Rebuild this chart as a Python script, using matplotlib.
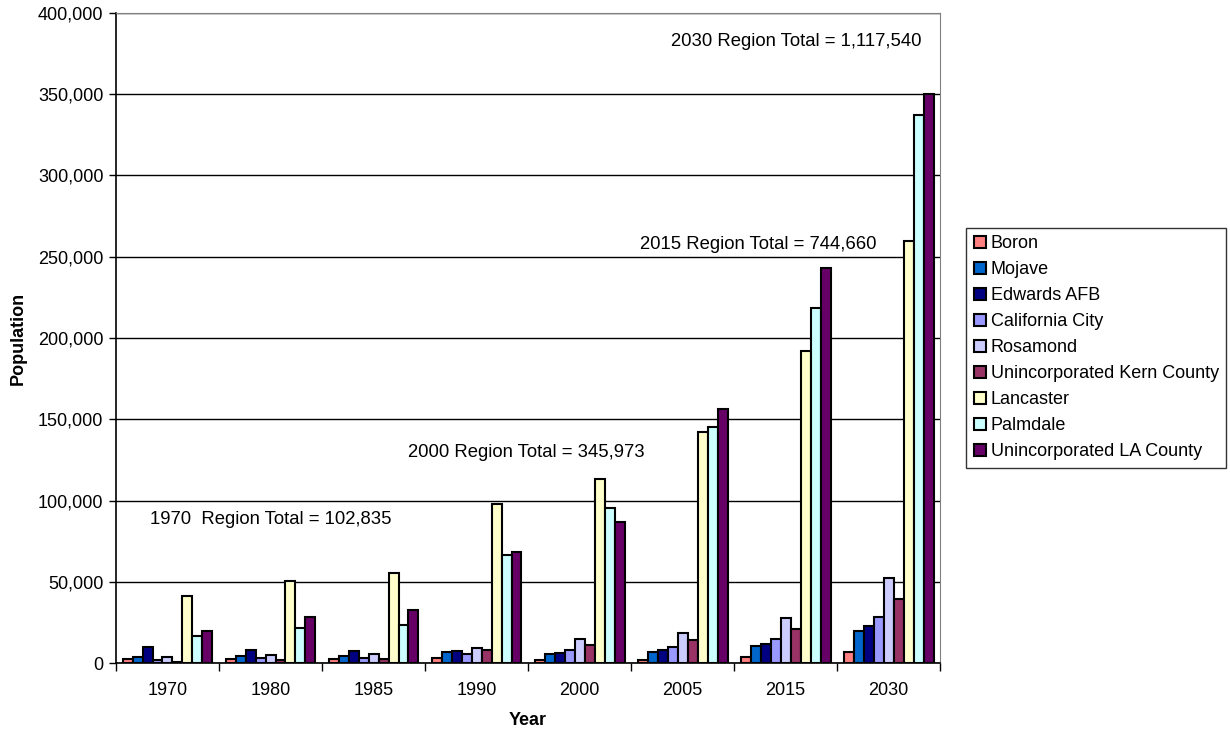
import matplotlib.pyplot as plt
import numpy as np
from matplotlib.ticker import FuncFormatter, FixedLocator

plt.rcParams['font.family'] = ['Liberation Sans', 'DejaVu Sans']

years = ['1970', '1980', '1985', '1990', '2000', '2005', '2015', '2030']
places = ['Boron', 'Mojave', 'Edwards AFB', 'California City', 'Rosamond',
          'Unincorporated Kern County', 'Lancaster', 'Palmdale',
          'Unincorporated LA County']
colors = ['#FF8080', '#0066CC', '#000080', '#9999FF', '#CCCCFF',
          '#993366', '#FFFFCC', '#CCFFFF', '#660066']

boron = [2500, 2700, 2700, 2900, 1800, 2000, 3500, 6800]
mojave = [3800, 4300, 4500, 6800, 5500, 6900, 10500, 19900]
edwards = [10000, 8200, 7600, 7200, 6400, 8000, 11900, 22800]
cal_city = [2000, 2900, 3300, 5500, 8000, 9800, 15000, 28200]
rosamond = [3700, 4900, 5500, 9000, 15000, 18600, 27900, 52300]
kern = [500, 1800, 2500, 8200, 11300, 14000, 20900, 39700]
lancaster = [41200, 50500, 55200, 97800, 113000, 141900, 192000, 260000]
palmdale = [16800, 21300, 23600, 66400, 95500, 145300, 218500, 337500]
la_county = [19900, 28500, 32800, 68600, 87000, 156300, 242800, 350000]
series = [boron, mojave, edwards, cal_city, rosamond, kern,
          lancaster, palmdale, la_county]

# label text, x start (group units), y centre
totals = [('1970  Region Total = 102,835', -0.17, 88600),
          ('2000 Region Total = 345,973', 2.335, 129800),
          ('2015 Region Total = 744,660', 4.59, 257700),
          ('2030 Region Total = 1,117,540', 4.89, 382500)]

fig = plt.figure(figsize=(12.3, 7.34), dpi=100)
ax = fig.add_axes([0.0943, 0.0967, 0.670, 0.8856])

x = np.arange(len(years))
w = 0.097
for j, (vals, name, c) in enumerate(zip(series, places, colors)):
    ax.bar(x + (j - 4) * w, vals, w, color=c, edgecolor='black',
           linewidth=1.5, label=name, zorder=3)

for txt, tx, ty in totals:
    ax.text(tx, ty, txt, fontsize=13.3, ha='left', va='center')

ax.set_xlim(-0.5, 7.5)
ax.set_ylim(0, 400000)
ax.set_yticks(np.arange(0, 400001, 50000))
ax.yaxis.set_major_formatter(FuncFormatter(lambda v, p: f'{int(v):,}'))
ax.grid(axis='y', color='black', linewidth=1, zorder=0)

ax.set_xticks(x)
ax.set_xticklabels(years)
ax.xaxis.set_minor_locator(FixedLocator(np.arange(-0.5, 8, 1)))
ax.tick_params(axis='x', which='major', length=0, pad=14, labelsize=13)
ax.tick_params(axis='x', which='minor', length=6, width=1)
ax.tick_params(axis='y', length=5, width=1, labelsize=13, pad=4)

for s in ['top', 'right']:
    ax.spines[s].set_color('#808080')
for s in ['left', 'bottom']:
    ax.spines[s].set_color('black')
    ax.spines[s].set_linewidth(1.2)

ax.set_ylabel('Population', fontsize=13, fontweight='bold', labelpad=8)
ax.set_xlabel('Year', fontsize=13, fontweight='bold', labelpad=9)

leg = ax.legend(loc='center left', bbox_to_anchor=(1.032, 0.485),
                fontsize=13, frameon=True, fancybox=False, edgecolor='black',
                handlelength=0.7, handleheight=0.7, handletextpad=0.25,
                labelspacing=0.5, borderpad=0.4, borderaxespad=0)
leg.get_frame().set_linewidth(1)

fig.savefig('out.png', dpi=100)
